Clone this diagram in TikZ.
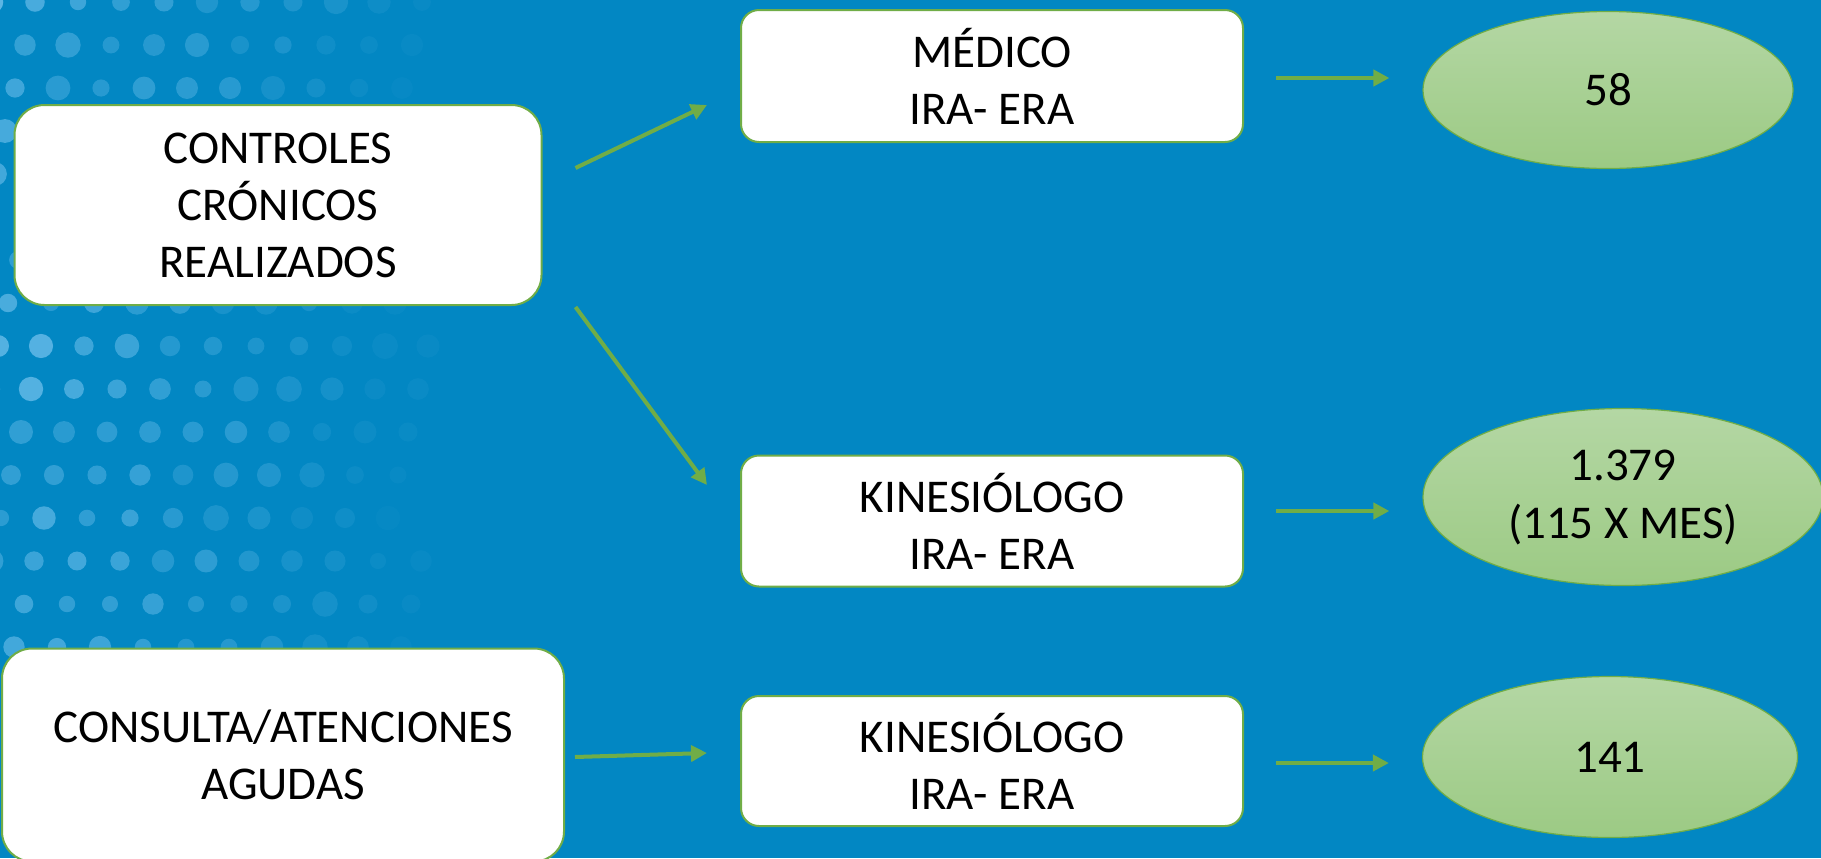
\documentclass[tikz,border=0pt]{standalone}
\usepackage{fontspec}
\setmainfont{Carlito}
\usepackage{tikz}
\usetikzlibrary{calc,arrows.meta,shapes.geometric}

\definecolor{fondo}{RGB}{2,135,195}
\definecolor{verde}{RGB}{112,173,71}
\definecolor{punto}{RGB}{100,186,232}
\definecolor{elarriba}{RGB}{180,215,164}
\definecolor{elabajo}{RGB}{156,202,132}

\begin{document}
\begin{tikzpicture}[x=0.5pt,y=-0.5pt,
  caja/.style={draw=verde, line width=1pt, fill=white, rounded corners=9pt,
    align=center, inner sep=0pt, font=\fontsize{23.5}{28.5}\selectfont},
  ovalo/.style={ellipse, draw=verde, line width=0.6pt, top color=elarriba,
    bottom color=elabajo, align=center, inner sep=0pt,
    font=\fontsize{23.5}{29}\selectfont},
  flecha/.style={draw=verde, line width=2pt, -{Triangle[length=8pt,width=8pt]}}]

\fill[fondo] (0,0) rectangle (1821,858);
\useasboundingbox (0,0) rectangle (1821,858);

% dots on the left
\pgfmathsetseed{11}
\foreach \fila in {0,...,15}{
  \pgfmathsetmacro{\desp}{mod(41+430-10*(\fila-8),43)}
  \foreach \col in {-1,...,9}{
    \pgfmathsetmacro{\rad}{4+2.5*rnd}
    \pgfmathsetmacro{\op}{max(0.05,(0.85-0.085*\col)*(0.5+0.5*rnd))}
    \fill[punto, opacity=\op] (\desp+43*\col, 2+43*\fila) circle[radius=\rad pt];
  }
}

\node[caja, rounded corners=15pt, minimum width=263.5pt, minimum height=100pt]
  (ctrl) at (278,205) {CONTROLES\\CRÓNICOS\\REALIZADOS};
\node[caja, rounded corners=15pt, minimum width=281pt, minimum height=106.5pt]
  (agudas) at (283,755) {CONSULTA/ATENCIONES\\AGUDAS};

\node[caja, minimum width=251pt, minimum height=66pt] (medico) at (992,76) {MÉDICO\\IRA- ERA};
\node[caja, minimum width=251pt, minimum height=65.5pt] (kine1) at (992,521) {KINESIÓLOGO\\IRA- ERA};
\node[caja, minimum width=251pt, minimum height=65pt] (kine2) at (992,761) {KINESIÓLOGO\\IRA- ERA};

\node[ovalo, minimum width=185pt, minimum height=78.5pt] (n58) at (1608,90) {58};
\node[ovalo, minimum width=200pt, minimum height=88.5pt] (n1379) at (1623,497) {1.379\\(115 X MES)};
\node[ovalo, minimum width=187.5pt, minimum height=80.5pt] (n141) at (1610,757) {141};

\draw[flecha] ([shift={(33,-37)}]ctrl.east) -- ([shift={(-33,29)}]medico.west);
\draw[flecha] ([shift={(33,102)}]ctrl.east) -- ([shift={(-33,-36)}]kine1.west);
\draw[flecha] ([shift={(10,2)}]agudas.east) -- ([shift={(-33,-8)}]kine2.west);

\draw[flecha] ([shift={(32,2)}]medico.east) -- ([shift={(-33,-12)}]n58.west);
\draw[flecha] ([shift={(32,-10)}]kine1.east) -- ([shift={(-33,14)}]n1379.west);
\draw[flecha] ([shift={(32,2)}]kine2.east) -- ([shift={(-33,6)}]n141.west);

\end{tikzpicture}
\end{document}
